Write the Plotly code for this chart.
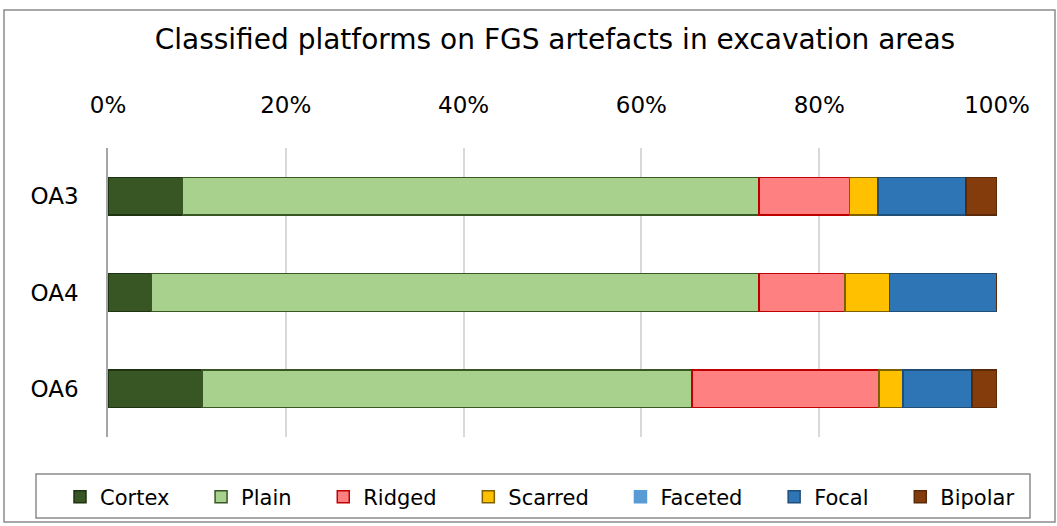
import plotly.graph_objects as go

categories = ["OA3", "OA4", "OA6"]
series_names = ["Cortex", "Plain", "Ridged", "Scarred", "Faceted", "Focal", "Bipolar"]
cortex = [8.4, 4.9, 10.6]
plain = [64.8, 68.3, 55.1]
ridged = [10.2, 9.7, 21.0]
scarred = [3.2, 5.0, 2.7]
faceted = [0.0, 0.0, 0.0]
focal = [9.9, 12.1, 7.8]
bipolar = [3.5, 0.0, 2.8]
tick_vals = [0, 20, 40, 60, 80, 100]
tick_text = ["0%", "20%", "40%", "60%", "80%", "100%"]

values = [cortex, plain, ridged, scarred, faceted, focal, bipolar]
fills = ["#375623", "#A9D18E", "#FF8080", "#FFC000", "#5B9BD5", "#2E75B6", "#843C0C"]
edges = ["#1E3312", "#385723", "#C00000", "#7F6000", "#5B9BD5", "#1F4E79", "#5A2908"]

FONT = "DejaVu Sans, sans-serif"
PAD = "\u00a0" * 4

fig = go.Figure()
n = len(series_names)
for i, (name, vals, fc, ec) in enumerate(zip(series_names, values, fills, edges)):
    fig.add_trace(go.Bar(
        y=categories, x=vals, name=name + (PAD if i < n - 1 else ""), orientation="h",
        marker=dict(color=fc, line=dict(color=ec, width=1.5)),
        width=0.39,
    ))

W, H = 1057, 526
L, R, T, B = 108, 60, 148, 89
pw, ph = W - L - R, H - T - B

def px_x(x):
    return (x - L) / pw

def px_y(y):
    return (H - B - y) / ph

fig.update_layout(
    width=W, height=H,
    barmode="stack",
    margin=dict(l=L, r=R, t=T, b=B, autoexpand=False),
    paper_bgcolor="white", plot_bgcolor="white",
    font=dict(family=FONT, size=22, color="#000000"),
    title=dict(text="Classified platforms on FGS artefacts in excavation areas",
               x=0.525, xanchor="center", y=0.925, yanchor="middle",
               font=dict(family=FONT, size=28, color="#000000")),
    xaxis=dict(side="top", range=[0, 100], tickvals=tick_vals, ticktext=tick_text,
               showgrid=True, gridcolor="#D9D9D9", gridwidth=1.5, zeroline=False,
               showline=False, ticks="outside", ticklen=25, tickcolor="rgba(0,0,0,0)",
               tickfont=dict(family=FONT, size=23)),
    yaxis=dict(autorange="reversed", showline=True, linecolor="#A6A6A6", linewidth=1.5,
               ticks="outside", ticklen=23, tickcolor="rgba(0,0,0,0)",
               tickfont=dict(family=FONT, size=23)),
    legend=dict(orientation="h", x=px_x(60), xanchor="left",
                y=px_y(497), yanchor="middle",
                font=dict(family=FONT, size=21), bgcolor="rgba(0,0,0,0)",
                itemwidth=30, traceorder="normal"),
    shapes=[
        dict(type="rect", xref="paper", yref="paper",
             x0=px_x(4), x1=px_x(1055), y0=px_y(522), y1=px_y(10),
             line=dict(color="#8C8C8C", width=1.5), fillcolor="rgba(0,0,0,0)", layer="below"),
        dict(type="rect", xref="paper", yref="paper",
             x0=px_x(36), x1=px_x(1030), y0=px_y(518), y1=px_y(474),
             line=dict(color="#8C8C8C", width=1.5), fillcolor="rgba(0,0,0,0)", layer="below"),
    ],
)

fig.write_html("out.html", config={"displayModeBar": False},
               post_script="document.body.style.margin='0';")
